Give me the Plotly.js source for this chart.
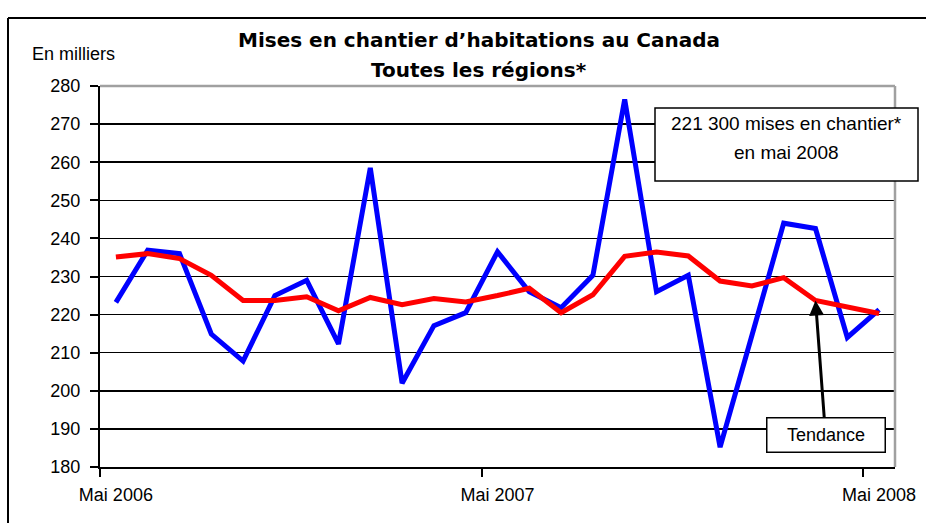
<!DOCTYPE html>
<html>
<head>
<meta charset="utf-8">
<script src="https://cdn.plot.ly/plotly-3.0.1.min.js"></script>
<style>
  html, body { margin: 0; padding: 0; background: #fff; }
  #chart { width: 937px; height: 523px; }
</style>
</head>
<body>
<div id="chart"></div>
<script>
// ---- Data (thousands of housing starts, seasonally adjusted annual rate) ----
const months = [
  "2006-05","2006-06","2006-07","2006-08","2006-09","2006-10","2006-11","2006-12",
  "2007-01","2007-02","2007-03","2007-04","2007-05","2007-06","2007-07","2007-08",
  "2007-09","2007-10","2007-11","2007-12","2008-01","2008-02","2008-03","2008-04","2008-05"
];
const starts = [
  223.2, 236.9, 236.0, 214.9, 207.8, 225.0, 229.0, 212.3,
  258.5, 202.0, 217.1, 220.5, 236.5, 226.0, 221.8, 230.3,
  276.5, 226.0, 230.3, 185.2, 214.5, 244.0, 242.6, 214.0, 221.3
];
const trend = [
  235.1, 236.0, 234.7, 230.3, 223.7, 223.7, 224.7, 221.0,
  224.5, 222.6, 224.2, 223.3, 225.0, 226.9, 220.5, 225.2,
  235.3, 236.4, 235.4, 228.8, 227.5, 229.7, 223.7, 221.9, 220.3
];
const labelMonths = ["2006-05", "2007-05", "2008-05"];
const labelText = ["Mai 2006", "Mai 2007", "Mai 2008"];
const yTicks = [180, 190, 200, 210, 220, 230, 240, 250, 260, 270, 280];

const idx = months.map((m, i) => i);
const labelIdx = labelMonths.map(m => months.indexOf(m));
const boundaryIdx = labelIdx.map(i => i - 0.5);

// ---- Layout helpers (pixel -> paper) ----
const W = 937, H = 523;
const M = { l: 100, r: 42, t: 86, b: 56 };
const PW = W - M.l - M.r, PH = H - M.t - M.b;
const px = x => (x - M.l) / PW;
const py = y => (H - M.b - y) / PH;

const FONT = "Liberation Sans, Arial, sans-serif";
const TFONT = "DejaVu Sans, Verdana, sans-serif";

const traces = [
  {
    x: idx, y: starts, type: "scatter", mode: "lines",
    line: { color: "#0000ff", width: 5 },
    xaxis: "x", yaxis: "y", hoverinfo: "skip", showlegend: false
  },
  {
    x: idx, y: trend, type: "scatter", mode: "lines",
    line: { color: "#ff0000", width: 5 },
    xaxis: "x2", yaxis: "y", hoverinfo: "skip", showlegend: false
  }
];

const layout = {
  width: W, height: H,
  margin: M,
  paper_bgcolor: "#ffffff",
  plot_bgcolor: "#ffffff",
  showlegend: false,
  font: { family: FONT, size: 18, color: "#000" },
  xaxis: {
    type: "linear",
    range: [-0.5, months.length - 0.5],
    tickmode: "array", tickvals: labelIdx, ticktext: labelText,
    ticks: "", showgrid: false, zeroline: false,
    showline: true, linecolor: "#000", linewidth: 2,
    tickfont: { family: FONT, size: 18, color: "#000" },
    ticklabelstandoff: 10,
    fixedrange: true
  },
  xaxis2: {
    type: "linear",
    overlaying: "x", anchor: "y", side: "bottom",
    range: [-0.5, months.length - 0.5],
    tickmode: "array", tickvals: boundaryIdx,
    ticks: "outside", ticklen: 9, tickwidth: 2, tickcolor: "#000",
    showticklabels: false, showgrid: false, zeroline: false, showline: false,
    fixedrange: true
  },
  yaxis: {
    range: [180, 280],
    tickmode: "array", tickvals: yTicks,
    ticks: "outside", ticklen: 8, tickwidth: 2, tickcolor: "#000",
    showgrid: true, gridcolor: "#000", gridwidth: 1.5,
    zeroline: false,
    showline: true, linecolor: "#000", linewidth: 2,
    tickfont: { family: FONT, size: 18, color: "#000" },
    ticklabelstandoff: 6,
    fixedrange: true
  },
  shapes: [
    // plot-area border (top and right, gray)
    { type: "line", xref: "paper", yref: "paper", x0: 0, x1: 1, y0: 1, y1: 1,
      line: { color: "#a0a0a0", width: 2.5 }, layer: "above" },
    { type: "line", xref: "paper", yref: "paper", x0: 1, x1: 1, y0: 0, y1: 1,
      line: { color: "#a0a0a0", width: 2.5 }, layer: "above" },
    // outer chart frame (left and top)
    { type: "line", xref: "paper", yref: "paper", x0: px(8), x1: px(8), y0: py(18), y1: py(540),
      line: { color: "#000", width: 2 }, layer: "above" },
    { type: "line", xref: "paper", yref: "paper", x0: px(8), x1: px(926), y0: py(18), y1: py(18),
      line: { color: "#000", width: 2 }, layer: "above" },
    // callout box
    { type: "rect", xref: "paper", yref: "paper", x0: px(655), x1: px(918), y0: py(181), y1: py(108),
      fillcolor: "#ffffff", line: { color: "#000", width: 1.5 }, layer: "above" }
  ],
  annotations: [
    { text: "<b>Mises en chantier d’habitations au Canada</b>", xref: "paper", yref: "paper",
      x: px(479), y: py(40), xanchor: "center", yanchor: "middle", showarrow: false,
      font: { family: TFONT, size: 20, color: "#000" } },
    { text: "<b>Toutes les régions*</b>", xref: "paper", yref: "paper",
      x: px(479), y: py(70), xanchor: "center", yanchor: "middle", showarrow: false,
      font: { family: TFONT, size: 20, color: "#000" } },
    { text: "En milliers", xref: "paper", yref: "paper",
      x: px(30), y: py(54), xanchor: "left", yanchor: "middle", showarrow: false,
      font: { family: FONT, size: 18, color: "#000" } },
    { text: "221 300 mises en chantier*", xref: "paper", yref: "paper",
      x: px(786), y: py(123), xanchor: "center", yanchor: "middle", showarrow: false,
      font: { family: FONT, size: 19, color: "#000" } },
    { text: "en mai 2008", xref: "paper", yref: "paper",
      x: px(786), y: py(152), xanchor: "center", yanchor: "middle", showarrow: false,
      font: { family: FONT, size: 19, color: "#000" } },
    { text: "Tendance", xref: "x", yref: "y",
      x: 22, y: trend[22],
      showarrow: true, axref: "pixel", ayref: "pixel", ax: 10, ay: 134,
      arrowhead: 2, arrowsize: 1, arrowwidth: 3, arrowcolor: "#000", standoff: 0,
      bordercolor: "#000", borderwidth: 1.5, borderpad: 1, bgcolor: "#ffffff",
      width: 115, height: 31, align: "center", valign: "middle",
      font: { family: FONT, size: 18, color: "#000" } }
  ]
};

Plotly.newPlot("chart", traces, layout, { staticPlot: true, displayModeBar: false });
</script>
</body>
</html>
